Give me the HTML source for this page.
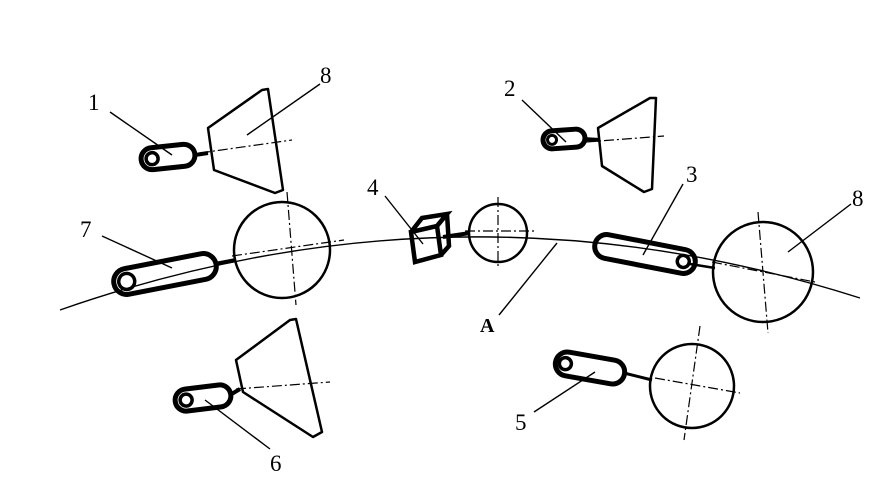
<!DOCTYPE html>
<html><head><meta charset="utf-8"><style>
html,body{margin:0;padding:0;background:#fff;}
svg{display:block;}
text{font-family:"Liberation Serif",serif;font-size:23px;fill:#000;}
</style></head><body>
<svg width="873" height="500" viewBox="0 0 873 500" xmlns="http://www.w3.org/2000/svg">
<g fill="none" stroke="#000">
<path d="M60,310 Q460,170 860,298" stroke-width="1.4"/>
<g stroke-width="1.2" stroke-dasharray="10,3,2,3">
<line x1="200" y1="153" x2="292" y2="140"/>
<line x1="287" y1="192" x2="296" y2="305"/>
<line x1="232" y1="256" x2="344" y2="240"/>
<line x1="236" y1="389" x2="330" y2="382"/>
<line x1="586" y1="142" x2="664" y2="136"/>
<line x1="465" y1="231" x2="535" y2="231"/>
<line x1="498" y1="197" x2="498" y2="268"/>
<line x1="758" y1="212" x2="768" y2="333"/>
<line x1="712" y1="262" x2="815" y2="282"/>
<line x1="700" y1="326" x2="684" y2="440"/>
<line x1="655" y1="378" x2="740" y2="393"/>
</g>
<g stroke-width="4">
<line x1="195" y1="155" x2="208" y2="153"/>
<line x1="215" y1="264" x2="236" y2="260"/>
<line x1="230" y1="395" x2="240" y2="389"/>
<line x1="583" y1="139" x2="600" y2="140"/>
<line x1="443" y1="237" x2="470" y2="233"/>
<line x1="690" y1="264" x2="715" y2="268" stroke-width="2.5"/>
<line x1="624" y1="373" x2="652" y2="380" stroke-width="3"/>
</g>
<g stroke-width="2.5" stroke-linejoin="round">
<path d="M208,128 L262,90 L268,89 L283,190 L275,193 L214,170 Z"/>
<path d="M236,360 L290,320 L296,319 L322,432 L313,437 L243,392 Z"/>
<path d="M598,128 L650,98 L656,98 L652,189 L644,192 L602,166 Z"/>
</g>
<g stroke-width="2.5">
<circle cx="282" cy="250" r="48"/>
<circle cx="498" cy="233" r="29"/>
<circle cx="763" cy="272" r="50"/>
<circle cx="692" cy="386" r="42"/>
</g>
<g stroke-width="5">
<g transform="translate(168,157) rotate(-6)"><rect x="-27" y="-11" width="54" height="22" rx="11"/><circle cx="-16" cy="0" r="6" stroke-width="3.5"/></g>
<g transform="translate(165,274) rotate(-11)"><rect x="-52" y="-13" width="104" height="26" rx="13"/><circle cx="-39" cy="0" r="8" stroke-width="3.5"/></g>
<g transform="translate(203,398) rotate(-7)"><rect x="-28" y="-11" width="56" height="22" rx="11"/><circle cx="-17" cy="0" r="6" stroke-width="3.5"/></g>
<g transform="translate(564,139) rotate(-4)"><rect x="-21" y="-9" width="42" height="18" rx="9"/><circle cx="-12" cy="0" r="4.5" stroke-width="3"/></g>
<g transform="translate(645,254) rotate(11)"><rect x="-51" y="-12" width="102" height="24" rx="12"/><circle cx="39" cy="0" r="6" stroke-width="3.5"/></g>
<g transform="translate(590,368) rotate(10)"><rect x="-35" y="-12" width="70" height="24" rx="12"/><circle cx="-25" cy="0" r="6" stroke-width="3.5"/></g>
</g>
<g stroke-width="4.5" stroke-linejoin="miter">
<path d="M411,232 L437,226 L441,255 L415,262 Z"/>
<path d="M411,232 L422,218 L447,214 L437,226 M447,214 L449,246 L441,255"/>
</g>
<g stroke-width="1.4">
<line x1="110" y1="112" x2="172" y2="155"/>
<line x1="320" y1="84" x2="247" y2="135"/>
<line x1="102" y1="236" x2="172" y2="268"/>
<line x1="270" y1="449" x2="205" y2="400"/>
<line x1="385" y1="196" x2="423" y2="244"/>
<line x1="522" y1="100" x2="566" y2="142"/>
<line x1="683" y1="184" x2="643" y2="255"/>
<line x1="851" y1="204" x2="788" y2="252"/>
<line x1="499" y1="315" x2="557" y2="243"/>
<line x1="534" y1="412" x2="595" y2="372"/>
</g>
</g>
<text x="88" y="110">1</text>
<text x="320" y="83">8</text>
<text x="80" y="237">7</text>
<text x="270" y="471">6</text>
<text x="367" y="195">4</text>
<text x="504" y="96">2</text>
<text x="686" y="182">3</text>
<text x="852" y="206">8</text>
<text x="480" y="332" font-weight="bold" style="font-size:20px">A</text>
<text x="515" y="430">5</text>
</svg>
</body></html>
